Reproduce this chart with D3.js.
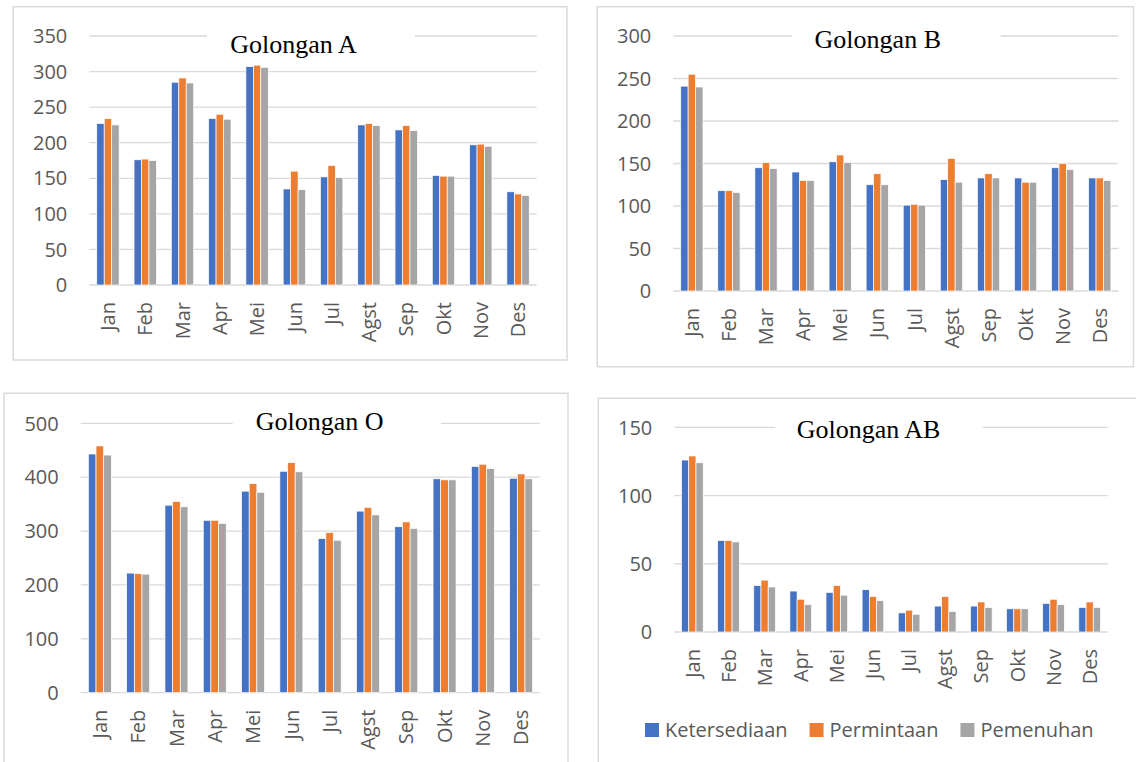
<!DOCTYPE html>
<html><head><meta charset="utf-8">
<script src="https://cdn.jsdelivr.net/npm/d3@7"></script>
<style>
html,body{margin:0;padding:0;background:#fff;}
svg{display:block;}
</style>
</head><body>
<svg id="c" width="1136" height="762"></svg>
<script>
const months = ["Jan","Feb","Mar","Apr","Mei","Jun","Jul","Agst","Sep","Okt","Nov","Des"];
const seriesNames = ["Ketersediaan","Permintaan","Pemenuhan"];
const seriesColors = ["#4472c4","#ed7d31","#a5a5a5"];

const aKetersediaan = [227,176,285,234,307,135,152,225,218,154,197,131];
const aPermintaan   = [234,177,291,240,309,160,168,227,224,153,198,128];
const aPemenuhan    = [225,175,284,233,306,134,151,224,217,153,195,126];

const bKetersediaan = [241,118,145,140,152,125,101,131,133,133,145,133];
const bPermintaan   = [255,118,151,130,160,138,102,156,138,128,150,133];
const bPemenuhan    = [240,116,144,130,151,125,101,128,133,128,143,130];

const oKetersediaan = [443,222,348,320,374,411,286,337,308,397,420,398];
const oPermintaan   = [458,221,355,320,388,427,297,344,317,395,424,406];
const oPemenuhan    = [441,220,345,314,372,410,283,330,305,395,416,397];

const abKetersediaan = [126,67,34,30,29,31,14,19,19,17,21,18];
const abPermintaan   = [129,67,38,24,34,26,16,26,22,17,24,22];
const abPemenuhan    = [124,66,33,20,27,23,13,15,18,17,20,18];

const ticksA = [0,50,100,150,200,250,300,350];
const ticksB = [0,50,100,150,200,250,300];
const ticksO = [0,100,200,300,400,500];
const ticksAB = [0,50,100,150];

const panels = [
  {title:"Golongan A", series:[aKetersediaan,aPermintaan,aPemenuhan], ticks:ticksA,
   border:[13.3,6.7,567,360], plot:[89.3,536.7,36,285], titleX:293.5, titleY:52.7, gap:[207,415]},
  {title:"Golongan B", series:[bKetersediaan,bPermintaan,bPemenuhan], ticks:ticksB,
   border:[597.3,6.7,1133.5,366.7], plot:[673.3,1118.3,36,291], titleX:877.8, titleY:47.7, gap:[792,1000.7]},
  {title:"Golongan O", series:[oKetersediaan,oPermintaan,oPemenuhan], ticks:ticksO,
   border:[4,393.3,568,775], plot:[80.7,540.3,423.3,692.7], titleX:319.7, titleY:430, gap:[232.7,441]},
  {title:"Golongan AB", series:[abKetersediaan,abPermintaan,abPemenuhan], ticks:ticksAB,
   border:[598.3,398.3,1140,775], plot:[674.3,1107.7,427.3,632], titleX:868.5, titleY:438, gap:[775,982.3], legend:true}
];

const svg = d3.select("#c");
const labelFont = "'Open Sans', sans-serif";
const labelColor = "#595959";

panels.forEach(p => {
  const g = svg.append("g");
  const [bx0,by0,bx1,by1] = p.border;
  g.append("rect").attr("x",bx0).attr("y",by0).attr("width",bx1-bx0).attr("height",by1-by0)
    .attr("fill","#fff").attr("stroke","#d9d9d9").attr("stroke-width",1.5);

  const [x0,x1,yTop,yBot] = p.plot;
  const maxT = p.ticks[p.ticks.length-1];
  const y = d3.scaleLinear().domain([0,maxT]).range([yBot,yTop]);
  const x = d3.scaleBand().domain(months).range([x0,x1]).paddingInner(0.4).paddingOuter(0.2);
  const xs = d3.scaleBand().domain(seriesNames).range([0,x.bandwidth()]);

  // gridlines
  g.append("g").selectAll("line").data(p.ticks).join("line")
    .attr("x1",x0).attr("x2",x1).attr("y1",d=>y(d)).attr("y2",d=>y(d))
    .attr("stroke","#d9d9d9").attr("stroke-width",1.3);

  // y labels
  g.append("g").selectAll("text").data(p.ticks).join("text")
    .attr("x",x0-22).attr("y",d=>y(d)).attr("dy","0.36em")
    .attr("text-anchor","end").attr("font-family",labelFont).attr("font-size",20)
    .attr("fill",labelColor).text(d=>d);

  // bars
  seriesNames.forEach((s,si) => {
    g.append("g").selectAll("rect").data(p.series[si]).join("rect")
      .attr("x",(d,i)=>x(months[i])+xs(s))
      .attr("width",xs.bandwidth())
      .attr("y",d=>y(d)).attr("height",d=>yBot-y(d))
      .attr("fill",seriesColors[si]).attr("stroke","#fff").attr("stroke-width",0.7);
  });

  // x labels rotated
  g.append("g").selectAll("text").data(months).join("text")
    .attr("transform",d=>`translate(${x(d)+x.bandwidth()/2},${yBot+17}) rotate(-90)`)
    .attr("text-anchor","end").attr("dy","0.36em")
    .attr("font-family",labelFont).attr("font-size",20).attr("fill",labelColor).text(d=>d);

  // title with white gap box
  g.append("rect").attr("x",p.gap[0]).attr("y",yTop-3).attr("width",p.gap[1]-p.gap[0]).attr("height",6).attr("fill","#fff");
  g.append("text").attr("x",p.titleX).attr("y",p.titleY).attr("text-anchor","middle")
    .attr("font-family","'Liberation Serif','Times New Roman',serif").attr("font-size",26)
    .attr("fill","#000").text(p.title);

  if (p.legend) {
    const lg = g.append("g");
    let lx = 645;
    const ly = 730;
    seriesNames.forEach((s,si) => {
      lg.append("rect").attr("x",lx).attr("y",ly-7).attr("width",14).attr("height",14).attr("fill",seriesColors[si]);
      const t = lg.append("text").attr("x",lx+20).attr("y",ly).attr("dy","0.36em")
        .attr("font-family",labelFont).attr("font-size",20).attr("fill",labelColor).text(s);
      lx += 20 + t.node().getComputedTextLength() + 22;
    });
  }
});
</script>
</body></html>
